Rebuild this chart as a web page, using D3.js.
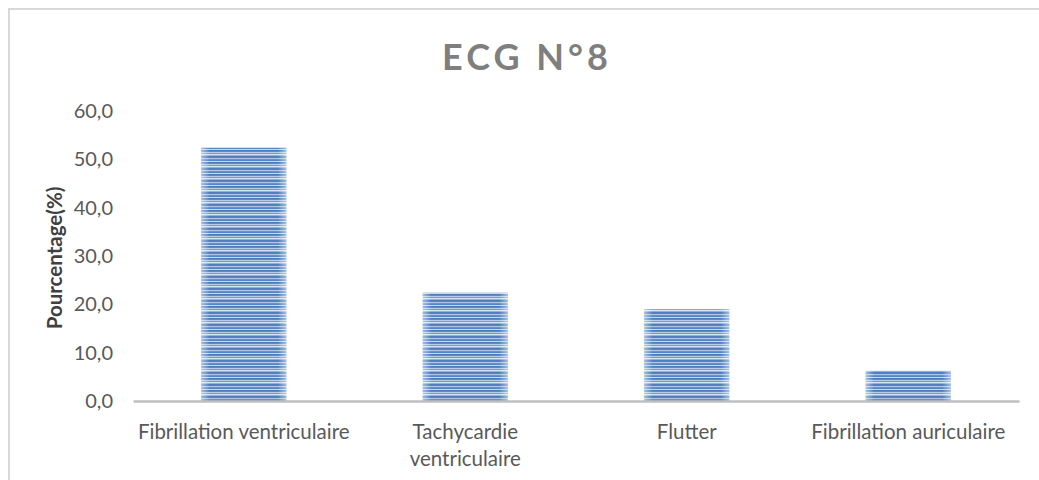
<!DOCTYPE html>
<html>
<head>
<meta charset="utf-8">
<script src="https://cdn.jsdelivr.net/npm/d3@7"></script>
<style>
  html, body { margin: 0; padding: 0; background: #fff; }
  svg { display: block; }
</style>
</head>
<body>
<svg id="chart" width="1039" height="480"></svg>
<script>
// Chart data
const categories = ["Fibrillation ventriculaire", "Tachycardie ventriculaire", "Flutter", "Fibrillation auriculaire"];
const categoryLines = [["Fibrillation ventriculaire"], ["Tachycardie", "ventriculaire"], ["Flutter"], ["Fibrillation auriculaire"]];
const values = [52.4, 22.4, 19.0, 6.3];
const yTicks = [0, 10, 20, 30, 40, 50, 60];
const title = "ECG N°8";
const yTitle = "Pourcentage(%)";

const FONT = "Lato, 'Open Sans', sans-serif";
const svg = d3.select("#chart");
const W = 1039, H = 480;
const plot = { left: 133, right: 1019, top: 111, bottom: 401 };

// Outer chart frame (left and top edges visible)
svg.append("path")
  .attr("d", `M9,${H} L9,9 L${W},9`)
  .attr("fill", "none")
  .attr("stroke", "#d9d9d9")
  .attr("stroke-width", 2);

// Striped fill for bars
const defs = svg.append("defs");
const pat = defs.append("pattern")
  .attr("id", "stripes")
  .attr("patternUnits", "userSpaceOnUse")
  .attr("width", 8).attr("height", 12);
const stripeRows = ["#4677bb", "#4a7cc0", "#a9c3e6", "#5f8aca", "#4d7fc1", "#c3d5ee",
                    "#4577ba", "#5384c4", "#b4cbea", "#6a93cd", "#d6e3f4", "#8aabdb"];
stripeRows.forEach((c, i) => {
  pat.append("rect").attr("x", 0).attr("y", i).attr("width", 8).attr("height", 1).attr("fill", c);
});
// Soft lightening towards the left and right sides of each bar
const grad = defs.append("linearGradient").attr("id", "sheen").attr("x1", "0").attr("x2", "1").attr("y1", "0").attr("y2", "0");
grad.append("stop").attr("offset", "0%").attr("stop-color", "#fff").attr("stop-opacity", 0.5);
grad.append("stop").attr("offset", "10%").attr("stop-color", "#fff").attr("stop-opacity", 0.05);
grad.append("stop").attr("offset", "90%").attr("stop-color", "#fff").attr("stop-opacity", 0.05);
grad.append("stop").attr("offset", "100%").attr("stop-color", "#fff").attr("stop-opacity", 0.5);

// Scales
const x = d3.scaleBand()
  .domain(categories)
  .range([plot.left, plot.right])
  .paddingInner(0.616)
  .paddingOuter(0.308);
const y = d3.scaleLinear()
  .domain([0, 60])
  .range([plot.bottom, plot.top]);

// Title
svg.append("text")
  .attr("x", 527).attr("y", 70)
  .attr("text-anchor", "middle")
  .attr("font-family", FONT)
  .attr("font-weight", "bold")
  .attr("font-size", 36)
  .attr("letter-spacing", 4)
  .attr("fill", "#7f7f7f")
  .text(title);

// Y axis (labels only, no line)
const yAxis = d3.axisLeft(y)
  .tickValues(yTicks)
  .tickSize(0)
  .tickPadding(20)
  .tickFormat(d => d3.format(".1f")(d).replace(".", ","));
const gy = svg.append("g")
  .attr("transform", `translate(${plot.left},0)`)
  .call(yAxis);
gy.select(".domain").remove();
gy.selectAll("text")
  .attr("font-family", FONT)
  .attr("font-size", 20)
  .attr("fill", "#595959");

// Y axis title
svg.append("text")
  .attr("transform", `translate(62,${(plot.top + plot.bottom) / 2 + 2}) rotate(-90)`)
  .attr("text-anchor", "middle")
  .attr("font-family", FONT)
  .attr("font-weight", "bold")
  .attr("font-size", 20.5)
  .attr("fill", "#404040")
  .text(yTitle);

// Bars
const bars = svg.append("g");
bars.selectAll("rect.bar")
  .data(values)
  .join("rect")
  .attr("class", "bar")
  .attr("x", (d, i) => x(categories[i]))
  .attr("y", d => y(d))
  .attr("width", x.bandwidth())
  .attr("height", d => y(0) - y(d))
  .attr("fill", "url(#stripes)");
bars.selectAll("rect.sheen")
  .data(values)
  .join("rect")
  .attr("class", "sheen")
  .attr("x", (d, i) => x(categories[i]))
  .attr("y", d => y(d))
  .attr("width", x.bandwidth())
  .attr("height", d => y(0) - y(d))
  .attr("fill", "url(#sheen)");

// X axis line
const xAxis = d3.axisBottom(x).tickSize(0).tickFormat("");
const gx = svg.append("g")
  .attr("transform", `translate(0,${plot.bottom})`)
  .call(xAxis);
gx.select(".domain")
  .attr("stroke", "#bfbfbf")
  .attr("stroke-width", 2.5);

// Category labels (wrapped)
const labels = svg.append("g");
categories.forEach((c, i) => {
  const t = labels.append("text")
    .attr("x", x(c) + x.bandwidth() / 2)
    .attr("y", 439)
    .attr("text-anchor", "middle")
    .attr("font-family", FONT)
    .attr("font-size", 20.5)
    .attr("fill", "#595959");
  categoryLines[i].forEach((line, j) => {
    t.append("tspan")
      .attr("x", x(c) + x.bandwidth() / 2)
      .attr("dy", j === 0 ? 0 : 27)
      .text(line);
  });
});
</script>
</body>
</html>
